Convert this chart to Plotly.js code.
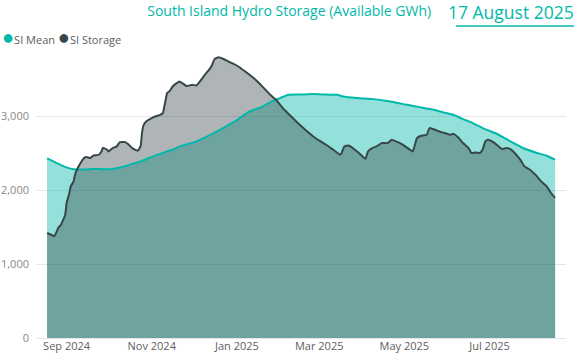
<!DOCTYPE html>
<html>
<head>
<meta charset="utf-8">
<script src="https://cdn.plot.ly/plotly-3.0.1.min.js"></script>
<style>
html,body{margin:0;padding:0;background:#fff;}
#chart{width:575px;height:358px;}
</style>
</head>
<body>
<div id="chart"></div>
<script>
// SI Mean (Available GWh)
const meanDates = ["2024-08-18","2024-08-25","2024-09-01","2024-09-06","2024-09-13","2024-09-20","2024-10-02","2024-10-14","2024-10-19","2024-10-24","2024-11-02","2024-11-12","2024-11-16","2024-11-21","2024-12-01","2024-12-13","2024-12-22","2025-01-01","2025-01-10","2025-01-18","2025-01-25","2025-02-01","2025-02-07","2025-02-15","2025-02-25","2025-03-06","2025-03-14","2025-03-18","2025-03-28","2025-04-09","2025-04-21","2025-05-03","2025-05-12","2025-05-22","2025-05-29","2025-06-05","2025-06-12","2025-06-19","2025-06-26","2025-07-06","2025-07-16","2025-07-25","2025-08-04","2025-08-11","2025-08-17"];
const meanValues = [2428,2365,2306,2280,2277,2286,2280,2329,2360,2387,2455,2522,2545,2590,2644,2747,2838,2945,3062,3116,3189,3243,3287,3290,3297,3290,3287,3264,3243,3229,3197,3152,3121,3085,3049,3017,2959,2905,2838,2761,2657,2568,2500,2464,2410];

// SI Storage (Available GWh)
const storageDates = ["2024-08-18","2024-08-21","2024-08-23","2024-08-25","2024-08-26","2024-08-28","2024-08-31","2024-09-01","2024-09-03","2024-09-04","2024-09-06","2024-09-07","2024-09-09","2024-09-11","2024-09-13","2024-09-15","2024-09-18","2024-09-20","2024-09-24","2024-09-26","2024-09-27","2024-09-30","2024-10-01","2024-10-04","2024-10-07","2024-10-09","2024-10-13","2024-10-15","2024-10-18","2024-10-20","2024-10-22","2024-10-24","2024-10-25","2024-10-26","2024-10-28","2024-11-01","2024-11-05","2024-11-07","2024-11-09","2024-11-10","2024-11-11","2024-11-12","2024-11-14","2024-11-16","2024-11-20","2024-11-21","2024-11-24","2024-11-26","2024-11-30","2024-12-03","2024-12-06","2024-12-09","2024-12-12","2024-12-14","2024-12-16","2024-12-19","2024-12-22","2024-12-26","2024-12-29","2025-01-02","2025-01-07","2025-01-13","2025-01-19","2025-01-25","2025-01-29","2025-02-04","2025-02-10","2025-02-15","2025-02-19","2025-02-24","2025-03-02","2025-03-06","2025-03-11","2025-03-16","2025-03-17","2025-03-19","2025-03-22","2025-03-25","2025-03-30","2025-04-03","2025-04-05","2025-04-08","2025-04-11","2025-04-15","2025-04-19","2025-04-22","2025-04-25","2025-04-30","2025-05-05","2025-05-07","2025-05-10","2025-05-13","2025-05-17","2025-05-19","2025-05-23","2025-05-26","2025-05-30","2025-06-03","2025-06-05","2025-06-09","2025-06-12","2025-06-16","2025-06-18","2025-06-21","2025-06-24","2025-06-26","2025-06-28","2025-06-30","2025-07-04","2025-07-07","2025-07-10","2025-07-13","2025-07-16","2025-07-19","2025-07-23","2025-07-26","2025-07-30","2025-08-04","2025-08-07","2025-08-11","2025-08-14","2025-08-17"];
const storageValues = [1420,1397,1375,1442,1488,1532,1667,1825,1960,2050,2117,2207,2298,2365,2423,2446,2433,2464,2477,2522,2568,2545,2522,2568,2590,2643,2648,2622,2568,2545,2531,2590,2770,2869,2927,2973,3004,3017,3040,3129,3220,3310,3340,3400,3458,3467,3431,3405,3422,3413,3480,3557,3625,3680,3770,3795,3775,3737,3712,3670,3602,3513,3405,3287,3220,3085,2973,2882,2815,2734,2657,2612,2545,2477,2500,2590,2603,2568,2491,2423,2522,2568,2590,2635,2635,2680,2657,2612,2545,2522,2703,2734,2747,2838,2815,2792,2770,2747,2761,2703,2635,2568,2500,2509,2500,2545,2657,2680,2644,2599,2554,2568,2554,2500,2410,2320,2275,2184,2117,2050,1960,1893];

const seriesNames = ["SI Mean", "SI Storage"];
const titleText = "South Island Hydro Storage (Available GWh)";
const dateText = "17 August 2025";

const TEAL = "#01B8AA";
const DARK = "#374649";
const FONT = "'Segoe UI', 'Open Sans', sans-serif";

const traces = [
  {x: meanDates, y: meanValues, type: "scatter", mode: "lines", fill: "tozeroy",
   fillcolor: "rgba(1,184,170,0.42)", line: {width: 0, color: TEAL}, showlegend: false, hoverinfo: "skip"},
  {x: storageDates, y: storageValues, type: "scatter", mode: "lines", fill: "tozeroy",
   fillcolor: "rgba(55,70,73,0.40)", line: {width: 0, color: DARK}, showlegend: false, hoverinfo: "skip"},
  {x: meanDates, y: meanValues, type: "scatter", mode: "lines", name: seriesNames[0],
   line: {width: 2, color: TEAL, shape: "spline", smoothing: 0.4}, showlegend: false},
  {x: storageDates, y: storageValues, type: "scatter", mode: "lines", name: seriesNames[1],
   line: {width: 2, color: DARK, shape: "spline", smoothing: 0.4}, showlegend: false}
];

const layout = {
  width: 575, height: 358,
  margin: {l: 36, r: 9, t: 48, b: 20, pad: 0},
  paper_bgcolor: "#ffffff", plot_bgcolor: "#ffffff",
  font: {family: FONT, size: 11, color: "#605E5C"},
  showlegend: false,
  title: {text: titleText, font: {family: FONT, size: 14, color: TEAL},
          xref: "container", x: 0.503, xanchor: "center", yref: "container", y: 0.984, yanchor: "top"},
  xaxis: {
    type: "date",
    range: ["2024-08-10 02:00", "2025-08-24 19:00"],
    tick0: "2024-09-01", dtick: "M2", tickformat: "%b %Y",
    showgrid: false, zeroline: false, showline: false, ticks: "",
    tickfont: {family: FONT, size: 11, color: "#605E5C"}
  },
  yaxis: {
    range: [0, 3920], dtick: 1000, tickformat: ",d",
    showgrid: true, gridcolor: "#E6E6E6", gridwidth: 1,
    zeroline: true, zerolinecolor: "#E6E6E6", zerolinewidth: 1,
    showline: false, ticks: "", ticklabelstandoff: 6,
    tickfont: {family: FONT, size: 11, color: "#8A8886"}
  },
  annotations: [
    {xref: "paper", yref: "paper", x: 1.018, xanchor: "right", y: 1.123, yanchor: "middle",
     text: dateText, showarrow: false, font: {family: FONT, size: 17.5, color: TEAL}},
    {xref: "paper", yref: "paper", x: -0.068, xanchor: "left", y: 1.041, yanchor: "middle",
     text: "<span style='color:" + TEAL + ";font-size:20px'>●</span>" + seriesNames[0] +
           " <span style='color:" + DARK + ";font-size:20px'>●</span>" + seriesNames[1],
     showarrow: false, font: {family: FONT, size: 11, color: "#605E5C"}}
  ],
  shapes: [
    {type: "line", xref: "paper", yref: "paper", x0: 0.7925, x1: 1.015, y0: 1.0759, y1: 1.0759,
     line: {color: TEAL, width: 1.5}}
  ]
};

Plotly.newPlot("chart", traces, layout, {staticPlot: true, displayModeBar: false});
</script>
</body>
</html>
